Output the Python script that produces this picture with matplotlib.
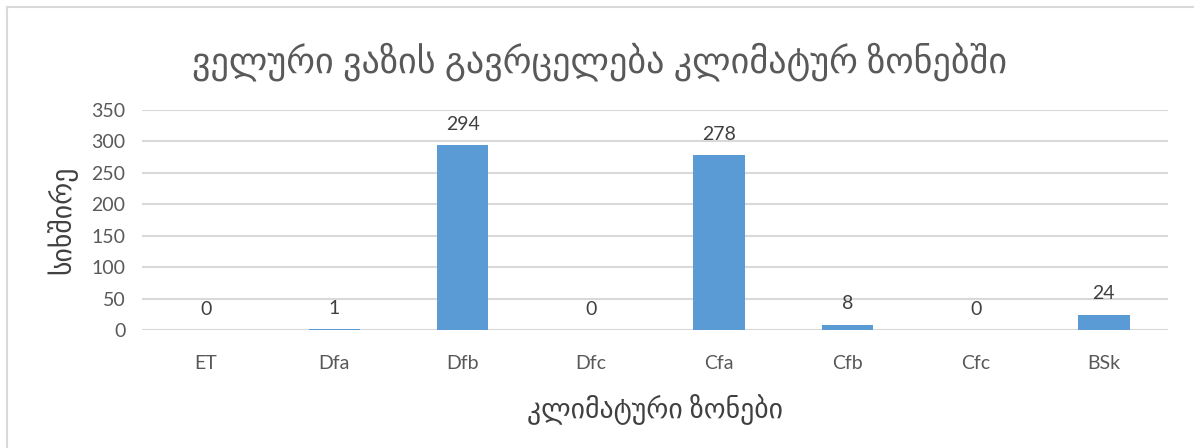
import matplotlib.pyplot as plt
import numpy as np
from matplotlib.lines import Line2D

# climate zones and number of records per zone
zones = ['ET', 'Dfa', 'Dfb', 'Dfc', 'Cfa', 'Cfb', 'Cfc', 'BSk']
counts = [0, 1, 294, 0, 278, 8, 0, 24]
yticks = [0, 50, 100, 150, 200, 250, 300, 350]

title = 'ველური ვაზის გავრცელება კლიმატურ ზონებში'
xlabel = 'კლიმატური ზონები'
ylabel = 'სიხშირე'

plt.rcParams['font.family'] = ['Lato', 'DejaVu Sans']
grey = '#595959'

fig = plt.figure(figsize=(11.94, 4.48), dpi=100)
ax = fig.add_axes([142 / 1194, 1 - 330 / 448, (1168 - 142) / 1194, 220 / 448])

x = np.arange(len(zones))
bars = ax.bar(x, counts, width=0.4, color='#5b9bd5', zorder=3)

for xi, v in zip(x, counts):
    ax.annotate(str(v), (xi, v), xytext=(0, 9), textcoords='offset points',
                ha='center', va='bottom', fontsize=14, color='#404040')

ax.set_xlim(-0.5, len(zones) - 0.5)
ax.set_ylim(0, 350)
ax.set_yticks(yticks)
ax.set_xticks(x)
ax.set_xticklabels(zones)
ax.tick_params(axis='both', length=0, labelsize=14, colors=grey)
ax.tick_params(axis='x', pad=18)
ax.tick_params(axis='y', pad=12)
ax.grid(axis='y', color='#d9d9d9', linewidth=1.5, zorder=0)
for s in ax.spines.values():
    s.set_visible(False)

ax.set_xlabel(xlabel, fontsize=20, color='#404040', labelpad=16)
ax.set_ylabel(ylabel, fontsize=20, color='#404040', labelpad=10)

fig.text(600 / 1194, 1 - 62 / 448, title, ha='center', va='center',
         fontsize=26, color=grey)

# chart frame
fig.add_artist(Line2D([7 / 1194, 7 / 1194], [0, 1 - 7 / 448],
                      color='#d9d9d9', linewidth=1.5, transform=fig.transFigure))
fig.add_artist(Line2D([7 / 1194, 1], [1 - 7 / 448, 1 - 7 / 448],
                      color='#d9d9d9', linewidth=1.5, transform=fig.transFigure))

fig.savefig('out.png', dpi=100)
